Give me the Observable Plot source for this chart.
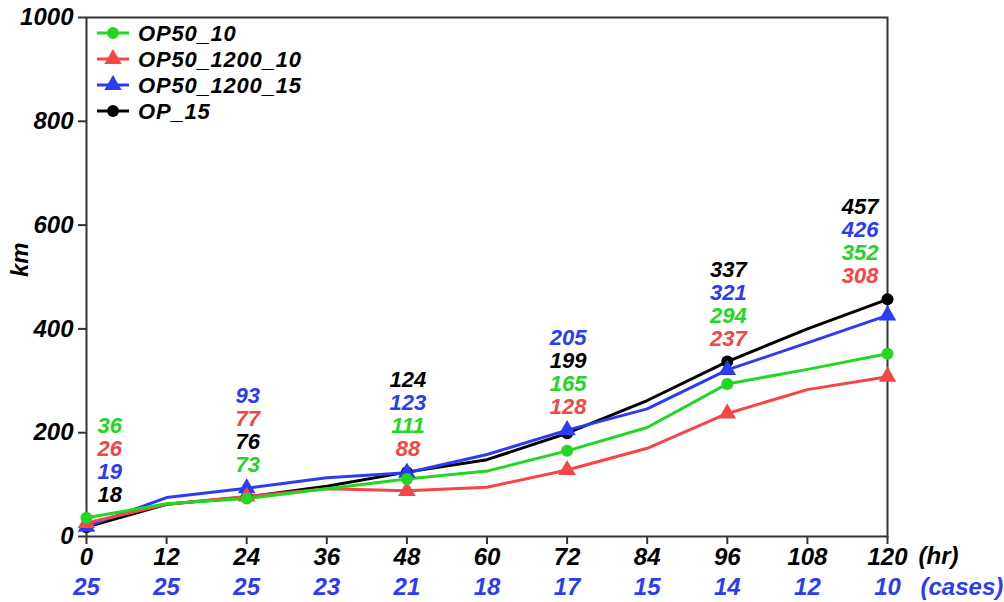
<!DOCTYPE html>
<html><head><meta charset="utf-8">
<script src="https://cdn.jsdelivr.net/npm/d3@7"></script>
<script src="https://cdn.jsdelivr.net/npm/@observablehq/plot@0.6"></script>
<style>
body{margin:0;background:#fff;}
#wrap{position:relative;width:1004px;height:602px;overflow:hidden;}
#wrap svg text{font-family:"Liberation Sans",Arial,sans-serif;font-style:italic;font-weight:bold;}
#wrap svg text.dl{letter-spacing:1.2px;}
#legend{position:absolute;left:0;top:0;}
#legend text{letter-spacing:0.8px;}
</style></head><body><div id="wrap"></div>
<script>
// ---- data ----
const hours = [0, 12, 24, 36, 48, 60, 72, 84, 96, 108, 120];
const cases = [25, 25, 25, 23, 21, 18, 17, 15, 14, 12, 10];
const labeledHours = [0, 24, 48, 72, 96, 120];
const seriesNames = ["OP50_10", "OP50_1200_10", "OP50_1200_15", "OP_15"];
const seriesColors = ["#22d622", "#f54545", "#2b3cf2", "#000000"];
const seriesSymbols = ["circle", "triangle", "triangle", "circle"];
const op50_10      = [36, 63, 73, 92, 111, 126, 165, 210, 294, 322, 352];
const op50_1200_10 = [26, 62, 77, 92, 88, 95, 128, 170, 237, 283, 308];
const op50_1200_15 = [19, 75, 93, 113, 123, 158, 205, 246, 321, 373, 426];
const op_15        = [18, 62, 76, 97, 124, 148, 199, 262, 337, 400, 457];
const yTicks = [0, 200, 400, 600, 800, 1000];
const xTicks = hours;

const seriesValues = [op50_10, op50_1200_10, op50_1200_15, op_15];
const drawOrder = [3, 2, 1, 0];

const rows = seriesNames.flatMap((s, i) => hours.map((h, j) => ({series: s, idx: i, hour: h, value: seriesValues[i][j]})));
const markRows = rows.filter(d => labeledHours.includes(d.hour));

const labelRows = labeledHours.flatMap(h => {
  const g = markRows.filter(d => d.hour === h).sort((a, b) => b.value - a.value);
  const top = g[0].value;
  return g.map((d, r) => ({...d, rank: r, top}));
});

const groups = [
  {hours: [0], anchor: "start", dx: 11},
  {hours: [24, 48, 72, 96], anchor: "middle", dx: 1},
  {hours: [120], anchor: "end", dx: -9}
];
const labelMarks = groups.flatMap(g => [0, 1, 2, 3].map(r => Plot.text(
  labelRows.filter(d => d.rank === r && g.hours.includes(d.hour)),
  {x: "hour", y: "top", text: d => String(d.value), fill: "series", textAnchor: g.anchor,
   dx: g.dx, dy: -92 + 23 * r, fontSize: 22, lineAnchor: "middle", className: "dl"}
)));

const lineMarks = drawOrder.map(i => Plot.line(rows.filter(d => d.idx === i),
  {x: "hour", y: "value", stroke: "series", strokeWidth: 3}));
const dotMarks = drawOrder.map(i => Plot.dot(markRows.filter(d => d.idx === i),
  {x: "hour", y: "value", fill: "series", symbol: () => seriesSymbols[i],
   r: seriesSymbols[i] === "circle" ? 6 : 6.5}));

const caseRows = hours.map((h, j) => ({hour: h, n: cases[j]}));

const chart = Plot.plot({
  width: 1004, height: 602,
  marginLeft: 86, marginRight: 117, marginTop: 17, marginBottom: 66,
  x: {domain: [0, 120]},
  y: {domain: [0, 1000]},
  color: {domain: seriesNames, range: seriesColors},
  symbol: {type: "identity"},
  marks: [
    Plot.axisY({ticks: yTicks, tickSize: 8, tickPadding: 5, fontSize: 24, tickFormat: d => String(d), stroke: "#333", strokeWidth: 2, label: null, fill: "#000"}),
    Plot.axisX({ticks: xTicks, tickSize: 8, tickPadding: 3, fontSize: 24, tickFormat: d => String(d), stroke: "#333", strokeWidth: 2, label: null, fill: "#000"}),
    Plot.frame({stroke: "#333", strokeWidth: 2}),
    Plot.text(caseRows, {x: "hour", text: d => String(d.n), frameAnchor: "bottom", dy: 51, fontSize: 24, fill: "#2b3cf2", lineAnchor: "middle"}),
    Plot.text(["(hr)"], {x: () => 120, text: d => d, frameAnchor: "bottom", dx: 31, dy: 20, textAnchor: "start", fontSize: 24, fill: "#000", lineAnchor: "middle"}),
    Plot.text(["(cases)"], {x: () => 120, text: d => d, frameAnchor: "bottom", dx: 33, dy: 51, textAnchor: "start", fontSize: 24, fill: "#2b3cf2", lineAnchor: "middle"}),
    Plot.text(["km"], {text: d => d, frameAnchor: "left", dx: -66, rotate: -90, fontSize: 24, fill: "#000"}),
    ...lineMarks,
    ...dotMarks,
    ...labelMarks
  ]
});
const wrap = document.getElementById("wrap");
wrap.appendChild(chart);

// ---- legend (inside plot, top-left) ----
const lg = d3.select(wrap).append("svg").attr("id", "legend").attr("width", 400).attr("height", 130);
seriesNames.forEach((s, i) => {
  const y = 33 + i * 26;
  const g = lg.append("g").attr("transform", `translate(0,${y})`);
  g.append("line").attr("x1", 97).attr("x2", 129).attr("y1", 0).attr("y2", 0)
    .attr("stroke", seriesColors[i]).attr("stroke-width", 3);
  g.append("path").attr("transform", "translate(113,0)")
    .attr("d", d3.symbol(seriesSymbols[i] === "circle" ? d3.symbolCircle : d3.symbolTriangle, seriesSymbols[i] === "circle" ? 110 : 130)())
    .attr("fill", seriesColors[i]);
  g.append("text").attr("x", 138).attr("y", 0).attr("dy", "0.36em")
    .attr("font-size", 22).attr("fill", "#000").text(s);
});
</script></body></html>
